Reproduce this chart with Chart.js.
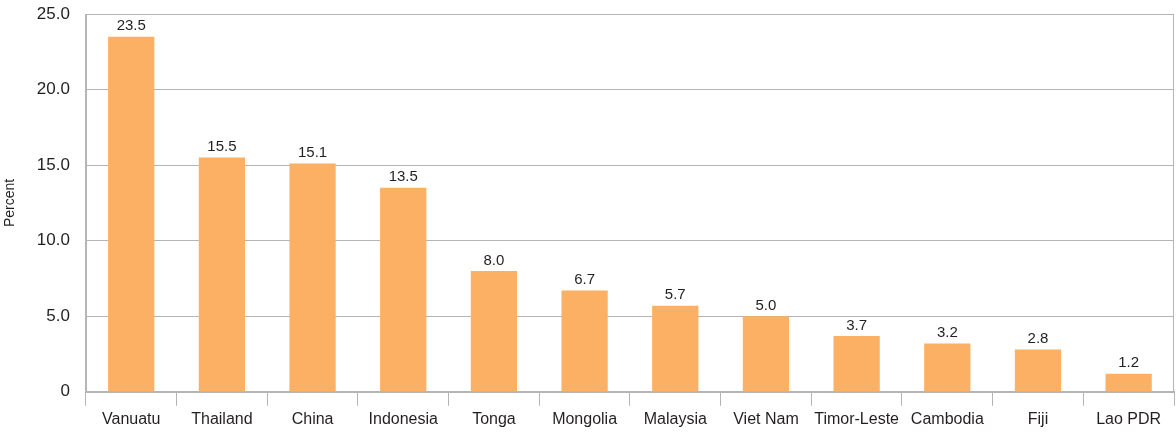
<!DOCTYPE html>
<html>
<head>
<meta charset="utf-8">
<script src="https://cdn.jsdelivr.net/npm/chart.js@4"></script>
<style>
  html, body { margin: 0; padding: 0; background: #fff; }
  #wrap { width: 1176px; height: 433px; }
</style>
</head>
<body>
<div id="wrap"><canvas id="chart" width="1176" height="433"></canvas></div>
<script>
// countries and their shares (percent)
const countries = ["Vanuatu", "Thailand", "China", "Indonesia", "Tonga", "Mongolia",
  "Malaysia", "Viet Nam", "Timor-Leste", "Cambodia", "Fiji", "Lao PDR"];
const shares = [23.5, 15.5, 15.1, 13.5, 8.0, 6.7, 5.7, 5.0, 3.7, 3.2, 2.8, 1.2];
const yTicks = [0, 5, 10, 15, 20, 25];

const gridGray = "#b5b5b5";
const textColor = "#231f20";
const fontFamily = "'Liberation Sans', Arial, sans-serif";

// value labels above each bar
const barLabels = {
  id: "barLabels",
  afterDatasetsDraw(chart) {
    const ctx = chart.ctx;
    const meta = chart.getDatasetMeta(0);
    ctx.save();
    ctx.fillStyle = textColor;
    ctx.font = "15px " + fontFamily;
    ctx.textAlign = "center";
    ctx.textBaseline = "bottom";
    meta.data.forEach((bar, i) => {
      ctx.fillText(shares[i].toFixed(1), bar.x, bar.y - 3);
    });
    ctx.restore();
  }
};

// frame around the plot area
const frame = {
  id: "frame",
  beforeDatasetsDraw(chart) {
    const a = chart.chartArea;
    const ctx = chart.ctx;
    ctx.save();
    ctx.strokeStyle = gridGray;
    ctx.lineWidth = 1;
    ctx.strokeRect(Math.round(a.left) + 0.5, Math.round(a.top) + 0.5,
      Math.round(a.right - a.left) - 1, Math.round(a.bottom - a.top));
    ctx.restore();
  }
};

new Chart(document.getElementById("chart"), {
  type: "bar",
  plugins: [frame, barLabels],
  data: {
    labels: countries,
    datasets: [{
      data: shares,
      backgroundColor: "#fbb063",
      categoryPercentage: 1,
      barPercentage: 0.51
    }]
  },
  options: {
    responsive: false,
    animation: false,
    layout: { padding: { top: 0, right: 2, left: 2, bottom: 0 } },
    plugins: { legend: { display: false }, tooltip: { enabled: false } },
    scales: {
      x: {
        grid: {
          offset: true,
          drawOnChartArea: false,
          color: gridGray,
          tickLength: 14
        },
        border: { color: gridGray },
        ticks: {
          color: textColor,
          font: { family: fontFamily, size: 16 },
          padding: 4,
          maxRotation: 0
        }
      },
      y: {
        min: 0,
        max: 25,
        afterBuildTicks(axis) { axis.ticks = yTicks.map(v => ({ value: v })); },
        // tick padding only widens the gap, it should not push the top down
        afterFit(axis) { axis.paddingTop = 14; axis.paddingBottom = 10; },
        grid: { color: gridGray, drawTicks: false },
        border: { color: gridGray },
        ticks: {
          color: textColor,
          padding: 16,
          font: { family: fontFamily, size: 17 },
          callback: v => v === 0 ? "0" : v.toFixed(1)
        },
        title: {
          display: true,
          text: "Percent",
          color: textColor,
          font: { family: fontFamily, size: 14 },
          padding: { top: 0, bottom: 2 }
        }
      }
    }
  }
});
</script>
</body>
</html>
